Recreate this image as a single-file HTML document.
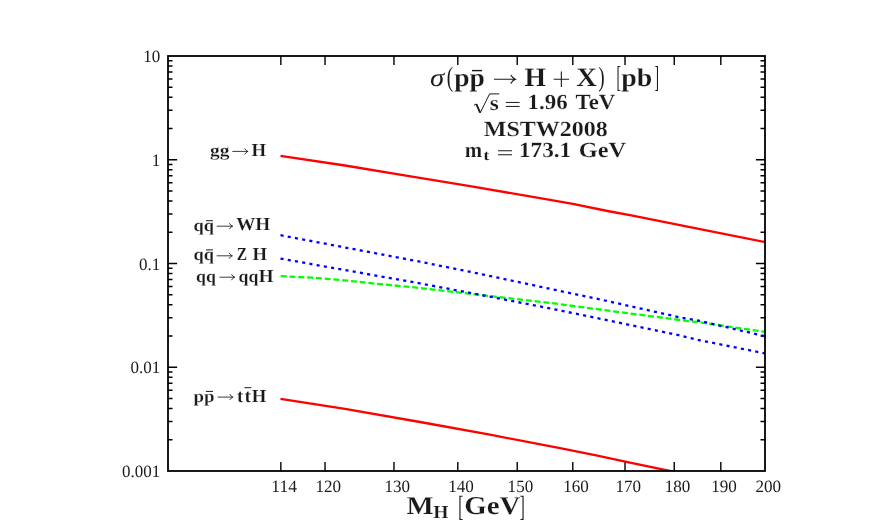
<!DOCTYPE html><html><head><meta charset="utf-8"><style>html,body{margin:0;padding:0;background:#fff;overflow:hidden}svg{display:block;position:absolute;left:0;top:0;will-change:transform}text{font-family:"Liberation Serif",serif;fill:#1a1a1a;text-rendering:geometricPrecision}.b{font-weight:bold;stroke:#fff;stroke-width:0.18px}.i{font-style:italic}</style></head><body>
<svg width="872" height="522" viewBox="0 0 872 522">
<rect width="872" height="522" fill="#fff"/>
<path d="M280.85,471.0v-9 M280.85,56.0v9 M325.03,471.0v-9 M325.03,56.0v9 M393.97,471.0v-9 M393.97,56.0v9 M457.80,471.0v-9 M457.80,56.0v9 M517.22,471.0v-9 M517.22,56.0v9 M572.81,471.0v-9 M572.81,56.0v9 M625.02,471.0v-9 M625.02,56.0v9 M674.25,471.0v-9 M674.25,56.0v9 M720.82,471.0v-9 M720.82,56.0v9 M168.0,439.77h4.5 M765.0,439.77h-4.5 M168.0,421.50h4.5 M765.0,421.50h-4.5 M168.0,408.54h4.5 M765.0,408.54h-4.5 M168.0,398.48h4.5 M765.0,398.48h-4.5 M168.0,390.27h4.5 M765.0,390.27h-4.5 M168.0,383.32h4.5 M765.0,383.32h-4.5 M168.0,377.30h4.5 M765.0,377.30h-4.5 M168.0,372.00h4.5 M765.0,372.00h-4.5 M168.0,367.25h9.1 M765.0,367.25h-9.1 M168.0,336.02h4.5 M765.0,336.02h-4.5 M168.0,317.75h4.5 M765.0,317.75h-4.5 M168.0,304.79h4.5 M765.0,304.79h-4.5 M168.0,294.73h4.5 M765.0,294.73h-4.5 M168.0,286.52h4.5 M765.0,286.52h-4.5 M168.0,279.57h4.5 M765.0,279.57h-4.5 M168.0,273.55h4.5 M765.0,273.55h-4.5 M168.0,268.25h4.5 M765.0,268.25h-4.5 M168.0,263.50h9.1 M765.0,263.50h-9.1 M168.0,232.27h4.5 M765.0,232.27h-4.5 M168.0,214.00h4.5 M765.0,214.00h-4.5 M168.0,201.04h4.5 M765.0,201.04h-4.5 M168.0,190.98h4.5 M765.0,190.98h-4.5 M168.0,182.77h4.5 M765.0,182.77h-4.5 M168.0,175.82h4.5 M765.0,175.82h-4.5 M168.0,169.80h4.5 M765.0,169.80h-4.5 M168.0,164.50h4.5 M765.0,164.50h-4.5 M168.0,159.75h9.1 M765.0,159.75h-9.1 M168.0,128.52h4.5 M765.0,128.52h-4.5 M168.0,110.25h4.5 M765.0,110.25h-4.5 M168.0,97.29h4.5 M765.0,97.29h-4.5 M168.0,87.23h4.5 M765.0,87.23h-4.5 M168.0,79.02h4.5 M765.0,79.02h-4.5 M168.0,72.07h4.5 M765.0,72.07h-4.5 M168.0,66.05h4.5 M765.0,66.05h-4.5 M168.0,60.75h4.5 M765.0,60.75h-4.5" stroke="#000" stroke-width="1.4" fill="none"/>
<defs><clipPath id="c"><rect x="168.0" y="56.0" width="597.0" height="415.0"/></clipPath></defs>
<g fill="none" stroke-width="2.3" stroke-linejoin="round" clip-path="url(#c)">
<path d="M280.7,276.2 L311.4,277.6 L344.1,280.3 L376.9,283.8 L416.6,287.6 L475.0,294.3 L550.0,302.9 L605.0,310.2 L680.0,320.0 L700.0,322.4 L765.0,331.9" stroke="#00ff00" stroke-dasharray="6 2.8"/>
<path d="M280.5,235.2 L420.0,261.7 L475.0,272.8 L550.0,288.8 L605.0,300.5 L680.0,317.4 L700.0,321.0 L765.0,336.2" stroke="#0000ff" stroke-dasharray="3.1 4.23"/>
<path d="M280.5,258.6 L420.0,283.4 L475.0,293.8 L550.0,308.4 L605.0,319.7 L680.0,335.5 L700.0,340.3 L765.0,353.4" stroke="#0000ff" stroke-dasharray="3.1 4.23"/>
<path d="M280.5,155.8 L345.0,165.5 L400.0,174.6 L470.0,186.1 L540.0,198.2 L572.8,203.9 L610.0,211.5 L630.0,215.2 L665.0,222.1 L700.0,229.1 L765.0,242.0" stroke="#ff0000"/>
<path d="M280.5,398.8 L345.0,408.9 L420.0,422.0 L490.0,434.7 L560.0,448.2 L595.0,455.1 L630.0,462.7 L671.0,471.2 L680.0,473.2" stroke="#ff0000"/>
</g>
<rect x="168.0" y="56.0" width="597.0" height="415.0" fill="none" stroke="#000" stroke-width="1.8"/>
<text x="284.1" y="492.3" font-size="17.3" text-anchor="middle" textLength="25.6" lengthAdjust="spacingAndGlyphs">114</text>
<text x="328.2" y="492.3" font-size="17.3" text-anchor="middle" textLength="25.6" lengthAdjust="spacingAndGlyphs">120</text>
<text x="397.2" y="492.3" font-size="17.3" text-anchor="middle" textLength="25.6" lengthAdjust="spacingAndGlyphs">130</text>
<text x="461.0" y="492.3" font-size="17.3" text-anchor="middle" textLength="25.6" lengthAdjust="spacingAndGlyphs">140</text>
<text x="520.4" y="492.3" font-size="17.3" text-anchor="middle" textLength="25.6" lengthAdjust="spacingAndGlyphs">150</text>
<text x="576.0" y="492.3" font-size="17.3" text-anchor="middle" textLength="25.6" lengthAdjust="spacingAndGlyphs">160</text>
<text x="628.2" y="492.3" font-size="17.3" text-anchor="middle" textLength="25.6" lengthAdjust="spacingAndGlyphs">170</text>
<text x="677.5" y="492.3" font-size="17.3" text-anchor="middle" textLength="25.6" lengthAdjust="spacingAndGlyphs">180</text>
<text x="724.0" y="492.3" font-size="17.3" text-anchor="middle" textLength="25.6" lengthAdjust="spacingAndGlyphs">190</text>
<text x="768.2" y="492.3" font-size="17.3" text-anchor="middle" textLength="25.6" lengthAdjust="spacingAndGlyphs">200</text>
<text x="143.20" y="62.2" font-size="17.3" textLength="17" lengthAdjust="spacingAndGlyphs">10</text>
<text x="151.70" y="165.9" font-size="17.3" textLength="8.5" lengthAdjust="spacingAndGlyphs">1</text>
<text x="138.95" y="269.7" font-size="17.3" textLength="21.25" lengthAdjust="spacingAndGlyphs">0.1</text>
<text x="130.45" y="373.4" font-size="17.3" textLength="29.75" lengthAdjust="spacingAndGlyphs">0.01</text>
<text x="121.95" y="477.2" font-size="17.3" textLength="38.25" lengthAdjust="spacingAndGlyphs">0.001</text>
<text x="209.9" y="156.0" font-size="17.3" class="b" textLength="19.5" lengthAdjust="spacingAndGlyphs">gg</text>
<path d="M232.7,151.4H247.8 M244.9,148.8Q246.0,150.8 247.8,151.4Q246.0,152.1 244.9,154.0" fill="none" stroke="#1a1a1a" stroke-width="0.85" stroke-linecap="round"/>
<text x="251.6" y="156.0" font-size="18.3" class="b" textLength="14.6" lengthAdjust="spacingAndGlyphs">H</text>
<text x="193.5" y="230.5" font-size="17.3" class="b" textLength="20.5" lengthAdjust="spacingAndGlyphs">qq</text>
<path d="M206.0,220.7H212.9" stroke="#1a1a1a" stroke-width="1.0" fill="none"/>
<path d="M217.1,226.2H232.5 M229.6,223.6Q230.7,225.5 232.5,226.2Q230.7,226.8 229.6,228.8" fill="none" stroke="#1a1a1a" stroke-width="0.85" stroke-linecap="round"/>
<text x="236.2" y="230.4" font-size="18.3" class="b" textLength="34.0" lengthAdjust="spacingAndGlyphs">WH</text>
<text x="193.5" y="260.0" font-size="17.3" class="b" textLength="20.5" lengthAdjust="spacingAndGlyphs">qq</text>
<path d="M206.0,249.9H212.9" stroke="#1a1a1a" stroke-width="1.0" fill="none"/>
<path d="M217.1,255.8H232.2 M229.3,253.2Q230.4,255.2 232.2,255.8Q230.4,256.4 229.3,258.4" fill="none" stroke="#1a1a1a" stroke-width="0.85" stroke-linecap="round"/>
<text x="236.7" y="260.0" font-size="18.3" class="b" textLength="10.3" lengthAdjust="spacingAndGlyphs">Z</text>
<text x="252.6" y="260.0" font-size="18.3" class="b" textLength="14.5" lengthAdjust="spacingAndGlyphs">H</text>
<text x="196.1" y="282.0" font-size="17.3" class="b" textLength="19.9" lengthAdjust="spacingAndGlyphs">qq</text>
<path d="M219.9,277.2H234.6 M231.7,274.6Q232.8,276.6 234.6,277.2Q232.8,277.8 231.7,279.8" fill="none" stroke="#1a1a1a" stroke-width="0.85" stroke-linecap="round"/>
<text x="238.6" y="282.0" font-size="17.3" class="b" textLength="19.8" lengthAdjust="spacingAndGlyphs">qq</text>
<text x="258.7" y="282.0" font-size="18.3" class="b" textLength="14.8" lengthAdjust="spacingAndGlyphs">H</text>
<text x="193.6" y="401.5" font-size="17.3" class="b" textLength="21.0" lengthAdjust="spacingAndGlyphs">pp</text>
<path d="M205.9,391.4H213.0" stroke="#1a1a1a" stroke-width="1.0" fill="none"/>
<path d="M218.0,397.1H232.8 M229.9,394.5Q231.0,396.5 232.8,397.1Q231.0,397.8 229.9,399.7" fill="none" stroke="#1a1a1a" stroke-width="0.85" stroke-linecap="round"/>
<text x="237.1" y="401.6" font-size="18.5" class="b" textLength="6.2" lengthAdjust="spacingAndGlyphs">t</text>
<text x="244.4" y="401.6" font-size="18.5" class="b" textLength="6.6" lengthAdjust="spacingAndGlyphs">t</text>
<text x="251.8" y="401.5" font-size="18.3" class="b" textLength="14.6" lengthAdjust="spacingAndGlyphs">H</text>
<path d="M244.4,387.7H251.3" stroke="#1a1a1a" stroke-width="1.0" fill="none"/>
<text x="429.9" y="85.5" font-size="25.7" class="i" textLength="14.2" lengthAdjust="spacingAndGlyphs">&#963;</text>
<text x="446.8" y="85.6" font-size="27.9" textLength="6.4" lengthAdjust="spacingAndGlyphs">(</text>
<text x="454.3" y="85.5" font-size="25.7" class="b" textLength="30.6" lengthAdjust="spacingAndGlyphs">pp</text>
<path d="M472.0,70.6H482.1" stroke="#1a1a1a" stroke-width="1.4" fill="none"/>
<path d="M494.5,79.3H515.4 M511.0,75.3Q512.6,78.3 515.4,79.3Q512.6,80.3 511.0,83.3" fill="none" stroke="#1a1a1a" stroke-width="1.1" stroke-linecap="round"/>
<text x="524.6" y="85.5" font-size="26.8" class="b" textLength="21.4" lengthAdjust="spacingAndGlyphs">H</text>
<path d="M553.7,79.3h15.3M561.35,71.6v15.3" stroke="#1a1a1a" stroke-width="1.1" fill="none"/>
<text x="576.3" y="85.5" font-size="26.8" class="b" textLength="20.7" lengthAdjust="spacingAndGlyphs">X</text>
<text x="598.3" y="85.6" font-size="27.9" textLength="6.4" lengthAdjust="spacingAndGlyphs">)</text>
<text x="616.6" y="87.3" font-size="30.4" textLength="4.5" lengthAdjust="spacingAndGlyphs">[</text>
<text x="621.3" y="85.5" font-size="25.7" class="b" textLength="31.0" lengthAdjust="spacingAndGlyphs">pb</text>
<text x="654.4" y="87.3" font-size="30.4" textLength="4.5" lengthAdjust="spacingAndGlyphs">]</text>
<text x="489.8" y="109.5" font-size="21.5" class="b" textLength="9.0" lengthAdjust="spacingAndGlyphs">s</text>
<path d="M473.9,105.3 L476.2,104.0 L480.1,113.0 L489.6,93.9 H499.2" fill="none" stroke="#1a1a1a" stroke-width="1" stroke-linejoin="miter"/>
<path d="M476.4,104.2 L480.0,112.4" fill="none" stroke="#1a1a1a" stroke-width="1.8"/>
<path d="M505.9,102.45H519.6M505.9,106.45H519.6" stroke="#1a1a1a" stroke-width="1.0" fill="none"/>
<text x="527.6" y="109.2" font-size="21.6" class="b" textLength="40.0" lengthAdjust="spacingAndGlyphs">1.96</text>
<text x="575.6" y="109.2" font-size="21.6" class="b" textLength="39.6" lengthAdjust="spacingAndGlyphs">TeV</text>
<text x="483.8" y="135.8" font-size="21.6" class="b" textLength="124.0" lengthAdjust="spacingAndGlyphs">MSTW2008</text>
<text x="464.7" y="157.3" font-size="21.6" class="b" textLength="17.4" lengthAdjust="spacingAndGlyphs">m</text>
<text x="483.2" y="160.2" font-size="14.5" class="b" textLength="6.2" lengthAdjust="spacingAndGlyphs">t</text>
<path d="M498.0,150.75H512.0M498.0,154.75H512.0" stroke="#1a1a1a" stroke-width="1.0" fill="none"/>
<text x="518.9" y="157.3" font-size="21.6" class="b" textLength="52.3" lengthAdjust="spacingAndGlyphs">173.1</text>
<text x="578.8" y="157.3" font-size="21.6" class="b" textLength="47.4" lengthAdjust="spacingAndGlyphs">GeV</text>
<text x="406.5" y="513.9" font-size="25.7" class="b" textLength="27.2" lengthAdjust="spacingAndGlyphs">M</text>
<text x="433.2" y="517.8" font-size="18.3" class="b" textLength="15.2" lengthAdjust="spacingAndGlyphs">H</text>
<text x="458.2" y="515.7" font-size="29.1" textLength="5.0" lengthAdjust="spacingAndGlyphs">[</text>
<text x="464.2" y="513.9" font-size="25.7" class="b" textLength="56.2" lengthAdjust="spacingAndGlyphs">GeV</text>
<text x="519.8" y="515.7" font-size="29.1" textLength="5.0" lengthAdjust="spacingAndGlyphs">]</text>
</svg></body></html>
